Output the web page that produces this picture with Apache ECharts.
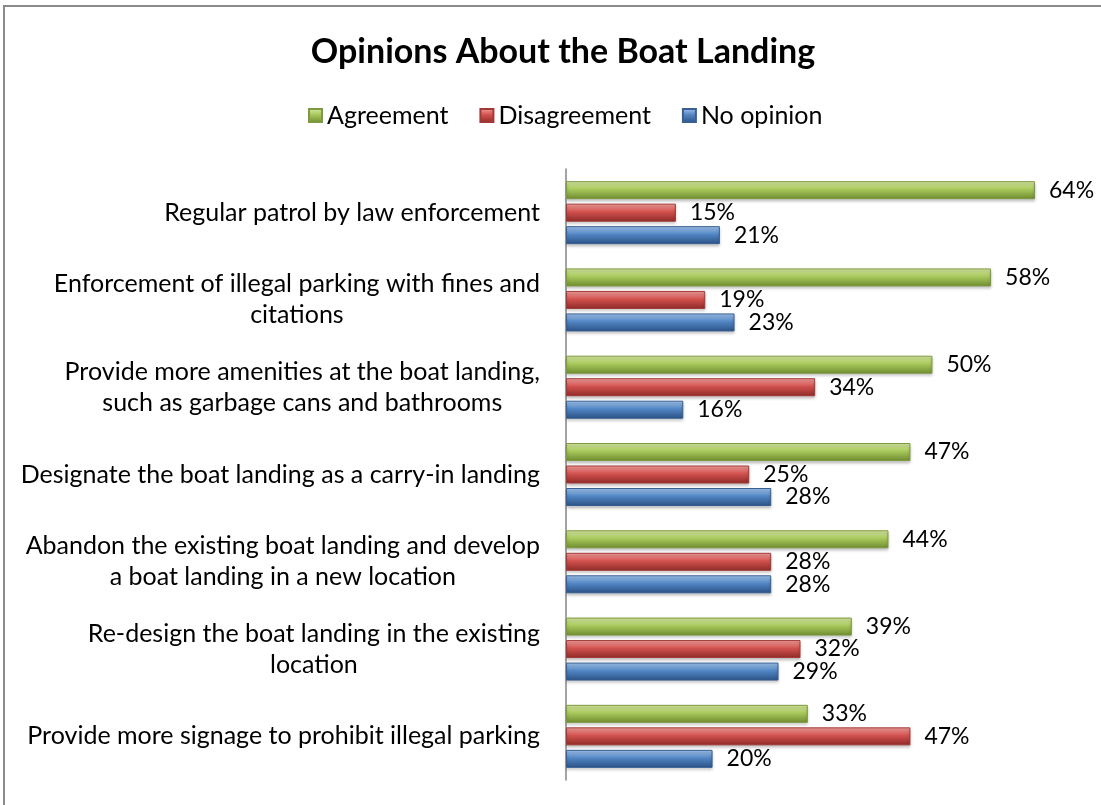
<!DOCTYPE html>
<html>
<head>
<meta charset="utf-8">
<script src="https://cdn.jsdelivr.net/npm/echarts@6/dist/echarts.min.js"></script>
<style>
  html, body { margin: 0; padding: 0; background: #fff; }
  #chart { width: 1101px; height: 805px; }
</style>
</head>
<body>
<div id="chart"></div>
<script>
// Survey statements, listed top to bottom
const categories = [
  'Regular patrol by law enforcement',
  'Enforcement of illegal parking with fines and\ncitations',
  'Provide more amenities at the boat landing,\nsuch as garbage cans and bathrooms',
  'Designate the boat landing as a carry-in landing',
  'Abandon the existing boat landing and develop\na boat landing in a new location',
  'Re-design the boat landing in the existing\nlocation',
  'Provide more signage to prohibit illegal parking'
];
const seriesNames = ['Agreement', 'Disagreement', 'No opinion'];
// Share of respondents (%)
const agreement = [64, 58, 50, 47, 44, 39, 33];
const disagreement = [15, 19, 34, 25, 28, 32, 47];
const noOpinion = [21, 23, 16, 28, 28, 29, 20];

const FONT = 'Lato';

function grad(top, mid, bottom) {
  return new echarts.graphic.LinearGradient(0, 0, 0, 1, [
    { offset: 0, color: top },
    { offset: 0.45, color: mid },
    { offset: 1, color: bottom }
  ]);
}

const palette = [
  { fill: grad('#d9eaa6', '#a8c95c', '#6e8b2f'), border: '#7d9a3f' },
  { fill: grad('#f5a3a0', '#d2524f', '#8e2a27'), border: '#a13936' },
  { fill: grad('#a6c8f0', '#5286c4', '#2b5185'), border: '#375f93' }
];

function makeSeries(name, values, idx) {
  return {
    name: name,
    type: 'bar',
    data: values,
    barWidth: 18,
    barGap: '25%',
    itemStyle: {
      color: palette[idx].fill,
      borderColor: palette[idx].border,
      borderWidth: 1,
      shadowColor: 'rgba(0,0,0,0.25)',
      shadowBlur: 3,
      shadowOffsetY: 2
    },
    label: {
      show: true,
      position: 'right',
      distance: 14,
      formatter: '{c}%',
      color: '#000',
      fontFamily: FONT,
      fontSize: 23
    }
  };
}

const chart = echarts.init(document.getElementById('chart'), null, { renderer: 'canvas' });
chart.setOption({
  animation: false,
  backgroundColor: '#fff',
  graphic: [{
    type: 'rect',
    shape: { x: 4, y: 6, width: 1200, height: 1000 },
    style: { fill: 'none', stroke: '#8a8a8a', lineWidth: 2 },
    silent: true
  }],
  title: {
    text: 'Opinions About the Boat Landing',
    left: 558,
    textAlign: 'center',
    top: 30,
    textStyle: { fontFamily: FONT, fontWeight: 'bold', fontSize: 34, color: '#000' }
  },
  legend: {
    data: seriesNames,
    left: 303,
    top: 98,
    icon: 'rect',
    itemWidth: 13,
    itemHeight: 13,
    itemGap: 31,
    textStyle: { fontFamily: FONT, fontSize: 25, color: '#000' }
  },
  grid: { left: 566, right: 22, top: 169, bottom: 25, containLabel: false },
  xAxis: {
    type: 'value',
    min: 0,
    max: 70,
    show: false
  },
  yAxis: {
    type: 'category',
    inverse: true,
    data: categories,
    axisLine: { show: true, lineStyle: { color: '#868686', width: 1.5 } },
    axisTick: { show: false },
    axisLabel: {
      margin: 26,
      color: '#000',
      fontFamily: FONT,
      fontSize: 25,
      lineHeight: 31,
      formatter: function (v) {
        return v.split('\n').map(function (line) { return '{c|' + line + '}'; }).join('\n');
      },
      rich: {
        c: { align: 'center', fontFamily: FONT, fontSize: 25, lineHeight: 31, color: '#000' }
      }
    }
  },
  series: [
    makeSeries(seriesNames[0], agreement, 0),
    makeSeries(seriesNames[1], disagreement, 1),
    makeSeries(seriesNames[2], noOpinion, 2)
  ]
});
</script>
</body>
</html>
